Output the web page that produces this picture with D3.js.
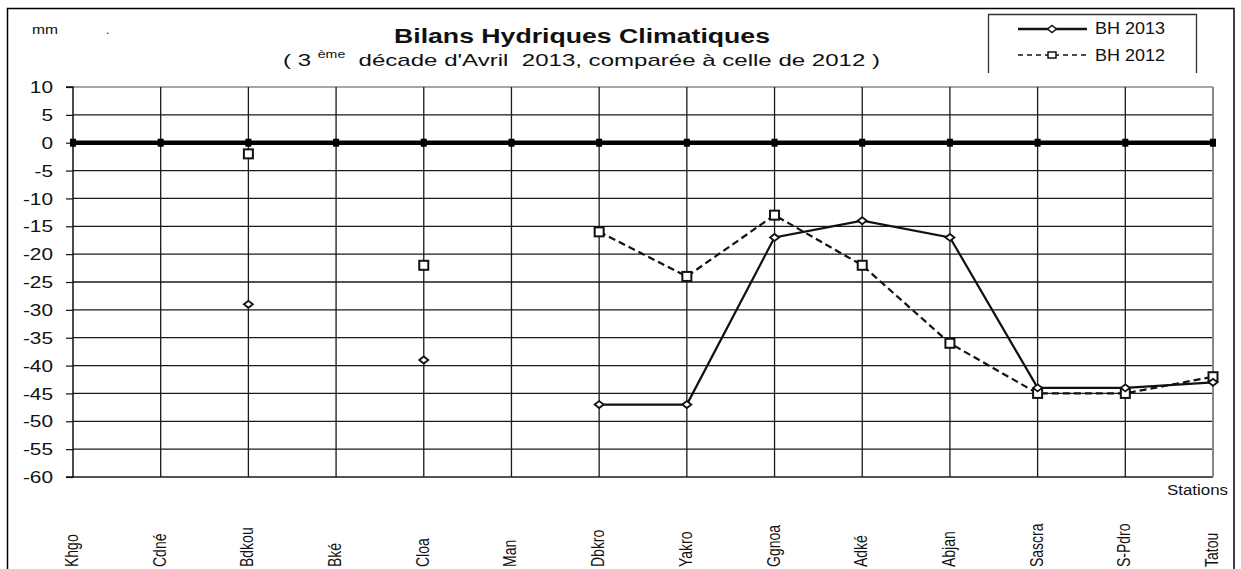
<!DOCTYPE html>
<html><head><meta charset="utf-8">
<script src="https://cdn.jsdelivr.net/npm/d3@7"></script>
<style>body{margin:0;background:#fff}svg{display:block}text{font-family:"Liberation Sans",Arial,sans-serif;fill:#111;white-space:pre}</style>
</head><body>
<svg id="c" width="1241" height="569"></svg>
<script>
const stations = ["Khgo","Cdné","Bdkou","Bké","Cloa","Man","Dbkro","Yakro","Ggnoa","Adké","Abjan","Sascra","S-Pdro","Tatou"];
const bh2013 = [null,null,-29,null,-39,null,-47,-47,-17,-14,-17,-44,-44,-43];
const bh2012 = [null,null,-2,null,-22,null,-16,-24,-13,-22,-36,-45,-45,-42];
const zeroRef = [0,0,0,0,0,0,0,0,0,0,0,0,0,0];
const yTicks = [10,5,0,-5,-10,-15,-20,-25,-30,-35,-40,-45,-50,-55,-60];

const svg = d3.select("#c");
const L = 73, R = 1213, T = 87, B = 477;
const x = d3.scalePoint().domain(stations).range([L, R]).padding(0);
const y = d3.scaleLinear().domain([-60, 10]).range([B, T]);
const SX = 1.3;

// outer frame
svg.append("rect").attr("x",7.5).attr("y",8.5).attr("width",1226.5).attr("height",580)
  .attr("fill","none").attr("stroke","#000").attr("stroke-width",1.5);

// horizontal gridlines
svg.append("g").selectAll("line").data(yTicks.filter(v=>v!==10 && v!==0)).join("line")
  .attr("x1",L).attr("x2",R).attr("y1",d=>y(d)).attr("y2",d=>y(d))
  .attr("stroke","#1a1a1a").attr("stroke-width",1.3);
// top border
svg.append("line").attr("x1",L).attr("x2",R).attr("y1",y(10)).attr("y2",y(10)).attr("stroke","#888").attr("stroke-width",1.5);
// vertical gridlines
svg.append("g").selectAll("line").data(stations.slice(1,-1)).join("line")
  .attr("x1",d=>x(d)).attr("x2",d=>x(d)).attr("y1",T).attr("y2",B)
  .attr("stroke","#1a1a1a").attr("stroke-width",1.3);
// right border
svg.append("line").attr("x1",R).attr("x2",R).attr("y1",T).attr("y2",B).attr("stroke","#888").attr("stroke-width",2);

// y axis
const yAxis = d3.axisLeft(y).tickValues(yTicks).tickSize(7).tickPadding(12).tickFormat(d=>String(d));
const ga = svg.append("g").attr("transform",`translate(${L},0)`).call(yAxis);
ga.select(".domain").attr("stroke","#111").attr("stroke-width",1.5).attr("d",`M-7,${y(10)}H0V${y(-60)}H-7`);
ga.selectAll(".tick line").attr("stroke","#111").attr("stroke-width",1.2);
ga.selectAll(".tick text").attr("font-size",16).attr("fill","#111")
  .attr("x",null).attr("dy",null).attr("dominant-baseline","central")
  .attr("transform",`translate(-20,0) scale(${SX},1)`);

// x labels
svg.append("g").selectAll("text").data(stations).join("text")
  .attr("transform",d=>`translate(${x(d)+5},567) scale(${SX},1) rotate(-90)`)
  .attr("font-size",14).attr("text-anchor","start").text(d=>d);

svg.append("text").attr("x",1228).attr("y",495).attr("text-anchor","end").attr("font-size",14)
  .attr("textLength",61).attr("lengthAdjust","spacingAndGlyphs").text("Stations");

// zero reference line
const lineGen = d3.line().defined(d=>d.v!==null).x(d=>x(d.s)).y(d=>y(d.v));
const zdat = stations.map((s,i)=>({s,v:zeroRef[i]}));
svg.append("path").datum(zdat).attr("d",lineGen).attr("fill","none").attr("stroke","#000").attr("stroke-width",4.5);
svg.append("g").selectAll("rect").data(zdat).join("rect")
  .attr("x",d=>x(d.s)-3).attr("y",d=>y(d.v)-4).attr("width",6).attr("height",8).attr("fill","#000");

// series
const d13 = stations.map((s,i)=>({s,v:bh2013[i]}));
const d12 = stations.map((s,i)=>({s,v:bh2012[i]}));
svg.append("path").datum(d12).attr("d",lineGen).attr("fill","none").attr("stroke","#111")
  .attr("stroke-width",2.2).attr("stroke-dasharray","7,4");
svg.append("path").datum(d13).attr("d",lineGen).attr("fill","none").attr("stroke","#111").attr("stroke-width",2.2);

const diamond = (cx,cy)=>`M${cx-4.5},${cy}L${cx},${cy-3.5}L${cx+4.5},${cy}L${cx},${cy+3.5}Z`;
svg.append("g").selectAll("rect").data(d12.filter(d=>d.v!==null)).join("rect")
  .attr("x",d=>x(d.s)-4.5).attr("y",d=>y(d.v)-4.5).attr("width",9).attr("height",9)
  .attr("fill","#fff").attr("stroke","#111").attr("stroke-width",2);
svg.append("g").selectAll("path").data(d13.filter(d=>d.v!==null)).join("path")
  .attr("d",d=>diamond(x(d.s),y(d.v))).attr("fill","#fff").attr("stroke","#111").attr("stroke-width",1.8);

// titles
svg.append("text").attr("x",582).attr("y",43).attr("text-anchor","middle").attr("font-size",20)
  .attr("font-weight","bold").attr("textLength",376).attr("lengthAdjust","spacingAndGlyphs")
  .text("Bilans Hydriques Climatiques");
const sub = svg.append("text").attr("x",283).attr("y",66).attr("font-size",17)
  .attr("textLength",597).attr("lengthAdjust","spacingAndGlyphs");
sub.append("tspan").text("( 3 ");
sub.append("tspan").attr("font-size",10).attr("dy",-8).text("ème");
sub.append("tspan").attr("dy",8).text("  décade d'Avril  2013, comparée à celle de 2012 )");

svg.append("text").attr("x",32).attr("y",34).attr("font-size",12).attr("textLength",26).attr("lengthAdjust","spacingAndGlyphs").text("mm");
svg.append("text").attr("x",106).attr("y",34).attr("font-size",12).text(".");

// legend
const lg = svg.append("g");
lg.append("path").attr("d","M988.5,73V14.5H1196.5V73").attr("fill","none").attr("stroke","#333").attr("stroke-width",1.3);
lg.append("line").attr("x1",1018).attr("x2",1087).attr("y1",29).attr("y2",29).attr("stroke","#111").attr("stroke-width",2.5);
lg.append("path").attr("d",diamond(1052,29)).attr("fill","#fff").attr("stroke","#111").attr("stroke-width",1.5);
lg.append("line").attr("x1",1018).attr("x2",1087).attr("y1",55).attr("y2",55).attr("stroke","#111").attr("stroke-width",1.5).attr("stroke-dasharray","5,4");
lg.append("rect").attr("x",1048).attr("y",52).attr("width",8).attr("height",6).attr("fill","#fff").attr("stroke","#111").attr("stroke-width",1.5);
lg.append("text").attr("x",1095).attr("y",34).attr("font-size",16).attr("textLength",70).attr("lengthAdjust","spacingAndGlyphs").text("BH 2013");
lg.append("text").attr("x",1095).attr("y",61).attr("font-size",16).attr("textLength",70).attr("lengthAdjust","spacingAndGlyphs").text("BH 2012");
</script>
</body></html>
